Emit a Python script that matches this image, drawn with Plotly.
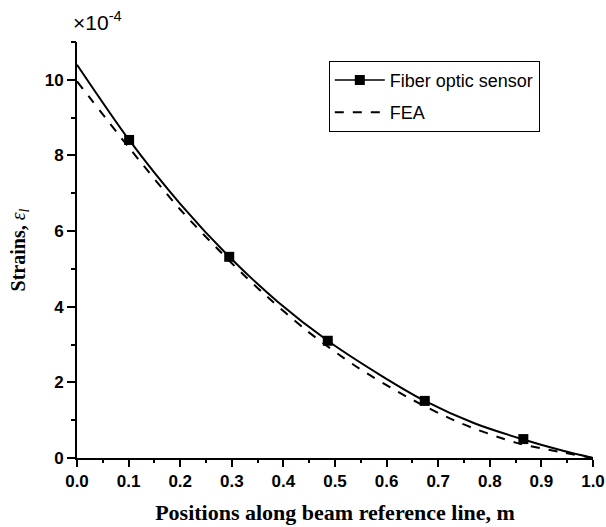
import plotly.graph_objects as go

# Fiber optic sensor (smooth fitted curve) - x in m, strain in 1e-4
sensor_curve_x = [0.0, 0.101, 0.2, 0.295, 0.39, 0.486, 0.587, 0.674, 0.77, 0.865, 0.942, 1.0]
sensor_curve_y = [10.40, 8.41, 6.72, 5.32, 4.12, 3.10, 2.20, 1.51, 0.92, 0.49, 0.19, 0.0]

# Fiber optic sensor measurement points
sensor_pts_x = [0.101, 0.295, 0.486, 0.674, 0.865]
sensor_pts_y = [8.41, 5.32, 3.10, 1.51, 0.50]

# FEA curve
fea_x = [0.0, 0.1, 0.2, 0.3, 0.36, 0.446, 0.541, 0.639, 0.742, 0.852, 0.933, 1.0]
fea_y = [9.96, 8.22, 6.57, 5.15, 4.37, 3.36, 2.42, 1.62, 0.93, 0.40, 0.17, 0.0]

x_minor = [0.05, 0.15, 0.25, 0.35, 0.45, 0.55, 0.65, 0.75, 0.85, 0.95]
y_minor = [1, 3, 5, 7, 9, 11]

fig = go.Figure()
fig.add_trace(go.Scatter(x=sensor_curve_x, y=sensor_curve_y, mode="lines",
                         line=dict(color="black", width=2, shape="spline", smoothing=0.8),
                         showlegend=False, hoverinfo="skip"))
fig.add_trace(go.Scatter(x=fea_x, y=fea_y, mode="lines",
                         line=dict(color="black", width=2, dash="dash", shape="spline", smoothing=0.8),
                         showlegend=False))
fig.add_trace(go.Scatter(x=sensor_pts_x, y=sensor_pts_y, mode="markers",
                         marker=dict(symbol="square", size=10, color="black"),
                         showlegend=False))
# legend entries
fig.add_trace(go.Scatter(x=[None], y=[None], mode="lines+markers", name="Fiber optic sensor",
                         legendgroup="a",
                         line=dict(color="black", width=1.5),
                         marker=dict(symbol="square", size=10, color="black")))
fig.add_trace(go.Scatter(x=[None], y=[None], mode="lines", name="FEA",
                         legendgroup="b",
                         line=dict(color="black", width=2, dash="dash")))
# invisible trace to activate minor-tick overlay axes
fig.add_trace(go.Scatter(x=[None], y=[None], xaxis="x2", yaxis="y2", showlegend=False))

tick_font = dict(size=17, family="Liberation Sans, Arial", color="black", weight="bold")

fig.update_layout(
    width=606, height=527,
    margin=dict(l=77, r=13, t=42, b=69),
    paper_bgcolor="white", plot_bgcolor="white",
    font=dict(family="Liberation Sans, Arial", color="black"),
    legend=dict(x=0.488, y=0.955, xanchor="left", yanchor="top",
                bordercolor="black", borderwidth=1, bgcolor="white",
                font=dict(size=18, family="Liberation Sans, Arial"),
                itemwidth=50, tracegroupgap=6),
    xaxis=dict(range=[0, 1.0], tickmode="linear", tick0=0, dtick=0.1, tickformat=".1f",
               automargin=False,
               showline=True, linecolor="black", linewidth=2,
               ticks="outside", ticklen=7, tickwidth=2, tickcolor="black",
               showgrid=False, zeroline=False,
               tickfont=tick_font,
               title=dict(text="<b>Positions along beam reference line, m</b>",
                          font=dict(size=22, family="Liberation Serif, Times New Roman", color="black"),
                          standoff=14)),
    yaxis=dict(range=[0, 11.0], tickmode="linear", tick0=0, dtick=2,
               automargin=False,
               showline=True, linecolor="black", linewidth=2,
               ticks="outside", ticklen=8, tickwidth=2, tickcolor="black",
               showgrid=False, zeroline=False,
               tickfont=tick_font,
               title=dict(text="<b>Strains, </b><i>ε<sub>l</sub></i>",
                          font=dict(size=20, family="Liberation Serif, Times New Roman", color="black"),
                          standoff=14)),
    xaxis2=dict(range=[0, 1.0], overlaying="x", side="bottom", anchor="y",
                tickmode="array", tickvals=x_minor, showticklabels=False,
                ticks="outside", ticklen=4, tickwidth=2, tickcolor="black",
                showline=False, showgrid=False, zeroline=False, automargin=False),
    yaxis2=dict(range=[0, 11.0], overlaying="y", side="left", anchor="x",
                tickmode="array", tickvals=y_minor, showticklabels=False,
                ticks="outside", ticklen=5, tickwidth=2, tickcolor="black",
                showline=False, showgrid=False, zeroline=False, automargin=False),
)

fig.add_annotation(text="×10<sup>-4</sup>", xref="paper", yref="paper",
                   x=0.0, y=1.0, xanchor="center", yanchor="bottom", yshift=6, xshift=20,
                   showarrow=False,
                   font=dict(size=21, family="Liberation Sans, Arial", color="black"))

fig.write_html("out.html")
